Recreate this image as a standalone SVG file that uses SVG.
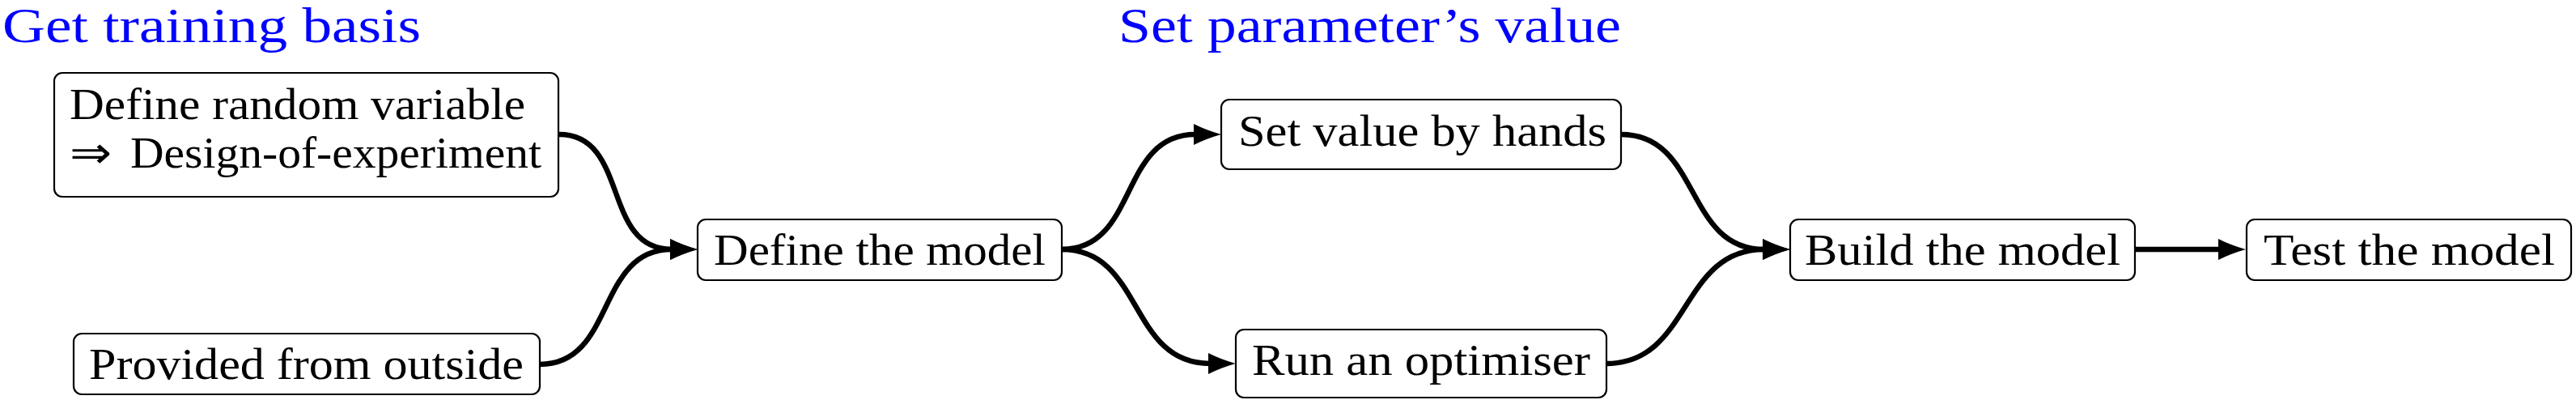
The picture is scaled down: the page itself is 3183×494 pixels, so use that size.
<svg xmlns="http://www.w3.org/2000/svg" width="3183" height="494" viewBox="0 0 3183 494">
  <style>
    .box { fill: #ffffff; stroke: #000000; stroke-width: 2.2; }
    .lbl { font-family: "Liberation Serif", "Times New Roman", serif; font-size: 54px; fill: #000000; }
    .title { font-family: "Liberation Serif", "Times New Roman", serif; font-size: 62px; fill: #0000ff; }
    .edge { fill: none; stroke: #000000; stroke-width: 6.5; marker-end: url(#arrow); }
  </style>
  <defs>
    <marker id="arrow" markerUnits="userSpaceOnUse" viewBox="0 -15 40 30" markerWidth="40" markerHeight="30" refX="2" refY="0" orient="auto">
      <path d="M0,-13 Q16,-5 34,0 Q16,5 0,13 Z" fill="#000000"/>
    </marker>
  </defs>
  <rect width="3183" height="494" fill="#ffffff"/>

  <g id="titles">
    <text class="title" x="3" y="52" textLength="517" lengthAdjust="spacingAndGlyphs">Get training basis</text>
    <text class="title" x="1382" y="52" textLength="621" lengthAdjust="spacingAndGlyphs">Set parameter’s value</text>
  </g>

  <g id="connectors">
    <path class="edge" d="M691,166 C778,166 743,308 830,308"/>
    <path class="edge" d="M667,450 C761,450 736,308 830,308"/>
    <path class="edge" d="M1312,308 C1407,308 1382,166 1477,166"/>
    <path class="edge" d="M1312,308 C1413,308 1394,449 1495,449"/>
    <path class="edge" d="M2003,166 C2102,166 2081,308 2180,308"/>
    <path class="edge" d="M1985,449 C2090,449 2075,308 2180,308"/>
    <path class="edge" d="M2638,308 L2743,308"/>
  </g>

  <g id="node-define-rv">
    <rect class="box" x="67" y="90" width="623" height="153" rx="10"/>
    <text class="lbl" x="86" y="147" textLength="563" lengthAdjust="spacingAndGlyphs">Define random variable</text>
    <text class="lbl" x="86" y="207" textLength="52" lengthAdjust="spacingAndGlyphs">⇒</text>
    <text class="lbl" x="161" y="207" textLength="508" lengthAdjust="spacingAndGlyphs">Design-of-experiment</text>
  </g>

  <g id="node-provided">
    <rect class="box" x="91" y="412" width="576" height="75" rx="10"/>
    <text class="lbl" x="110" y="468" textLength="537" lengthAdjust="spacingAndGlyphs">Provided from outside</text>
  </g>

  <g id="node-define-model">
    <rect class="box" x="862" y="271" width="450" height="75" rx="10"/>
    <text class="lbl" x="882" y="327" textLength="410" lengthAdjust="spacingAndGlyphs">Define the model</text>
  </g>

  <g id="node-set-value">
    <rect class="box" x="1509" y="123" width="494" height="86" rx="10"/>
    <text class="lbl" x="1530" y="180" textLength="455" lengthAdjust="spacingAndGlyphs">Set value by hands</text>
  </g>

  <g id="node-optimiser">
    <rect class="box" x="1527" y="407" width="458" height="84" rx="10"/>
    <text class="lbl" x="1547" y="463" textLength="418" lengthAdjust="spacingAndGlyphs">Run an optimiser</text>
  </g>

  <g id="node-build">
    <rect class="box" x="2212" y="271" width="426" height="75" rx="10"/>
    <text class="lbl" x="2230" y="327" textLength="390" lengthAdjust="spacingAndGlyphs">Build the model</text>
  </g>

  <g id="node-test">
    <rect class="box" x="2776" y="271" width="401" height="75" rx="10"/>
    <text class="lbl" x="2797" y="327" textLength="360" lengthAdjust="spacingAndGlyphs">Test the model</text>
  </g>
</svg>
